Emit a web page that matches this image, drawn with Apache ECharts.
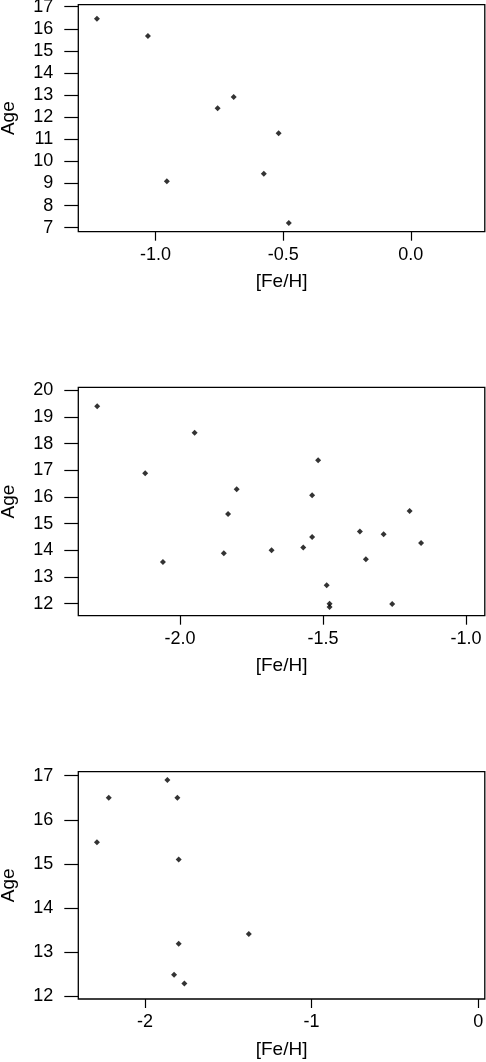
<!DOCTYPE html>
<html>
<head>
<meta charset="utf-8">
<script src="https://cdn.jsdelivr.net/npm/echarts@6/dist/echarts.min.js"></script>
<style>
html,body{margin:0;padding:0;background:#fff;}
#c{width:486px;height:1062px;}
</style>
</head>
<body>
<div id="c"></div>
<script>
// Panel 1
var fe1  = [-1.23, -1.03, -0.956, -0.757, -0.694, -0.518, -0.576, -0.478];
var age1 = [16.46, 15.67, 9.10, 12.40, 12.91, 11.27, 9.44, 7.21];
// Panel 2
var fe2  = [-2.29, -1.949, -2.122, -2.06, -1.802, -1.832, -1.847, -1.68, -1.517, -1.538, -1.538, -1.569, -1.487, -1.477, -1.477, -1.371, -1.35, -1.288, -1.197, -1.157, -1.258];
var age2 = [19.40, 18.41, 16.89, 13.56, 16.29, 15.36, 13.89, 14.00, 17.38, 16.06, 14.50, 14.11, 12.69, 12.00, 11.88, 14.71, 13.67, 14.60, 15.47, 14.27, 11.99];
// Panel 3
var fe3  = [-1.866, -2.218, -1.806, -2.289, -1.798, -1.377, -1.798, -1.826, -1.764];
var age3 = [16.90, 16.50, 16.50, 15.49, 15.10, 13.41, 13.19, 12.49, 12.29];

// Tick values
var xTicks1 = [-1.0, -0.5, 0.0];
var yTicks1 = [7, 8, 9, 10, 11, 12, 13, 14, 15, 16, 17];
var xTicks2 = [-2.0, -1.5, -1.0];
var yTicks2 = [12, 13, 14, 15, 16, 17, 18, 19, 20];
var xTicks3 = [-2, -1, 0];
var yTicks3 = [12, 13, 14, 15, 16, 17];

var xName = '[Fe/H]';
var yName = 'Age';

var FONT = '"Liberation Sans", Arial, Helvetica, sans-serif';
var FS = 18;
var FS_NAME = 19;

function pairs(xs, ys){ return xs.map(function(x,i){ return [x, ys[i]]; }); }

function grid(top, height){
  return {left: 78.3, width: 406.5, top: top, height: height, show: true,
          borderColor: '#000', borderWidth: 1.3, backgroundColor: 'transparent',
          containLabel: false, outerBoundsMode: 'none'};
}
function xAxis(i, min, max, ticks, dec){
  return {type: 'value', gridIndex: i, min: min, max: max,
    name: xName, nameLocation: 'middle', nameGap: 41,
    nameTextStyle: {color: '#000', fontSize: FS_NAME, fontFamily: FONT},
    axisLine: {show: false, onZero: false}, splitLine: {show: false},
    axisTick: {show: true, inside: false, length: 9, customValues: ticks, lineStyle: {color: '#000', width: 1.2}},
    axisLabel: {show: true, margin: 14, customValues: ticks, color: '#000', fontSize: FS, fontFamily: FONT,
      formatter: function(v){ return Number(v).toFixed(dec); }}
  };
}
function yAxis(i, min, max, ticks){
  return {type: 'value', gridIndex: i, min: min, max: max,
    name: yName, nameLocation: 'middle', nameGap: 60, nameRotate: 90,
    nameTextStyle: {color: '#000', fontSize: FS_NAME, fontFamily: FONT},
    axisLine: {show: false, onZero: false}, splitLine: {show: false},
    axisTick: {show: true, inside: false, length: 14, customValues: ticks, lineStyle: {color: '#000', width: 1.2}},
    axisLabel: {show: true, margin: 25, customValues: ticks, color: '#000', fontSize: FS, fontFamily: FONT,
      formatter: function(v){ return String(Math.round(v)); }}
  };
}
function series(i, xs, ys){
  return {type: 'scatter', xAxisIndex: i, yAxisIndex: i, data: pairs(xs, ys),
    symbol: 'diamond', symbolSize: 6, itemStyle: {color: '#000'}, silent: true};
}

var chart = echarts.init(document.getElementById('c'), null, {renderer: 'canvas'});
chart.setOption({
  animation: false,
  backgroundColor: '#fff',
  grid: [grid(4.7, 227), grid(387.3, 228.4), grid(771.7, 227.3)],
  xAxis: [
    xAxis(0, -1.303, 0.29, xTicks1, 1),
    xAxis(1, -2.356, -0.934, xTicks2, 1),
    xAxis(2, -2.401, 0.04, xTicks3, 0)
  ],
  yAxis: [
    yAxis(0, 6.82, 17.09, yTicks1),
    yAxis(1, 11.55, 20.11, yTicks2),
    yAxis(2, 11.94, 17.09, yTicks3)
  ],
  series: [series(0, fe1, age1), series(1, fe2, age2), series(2, fe3, age3)]
});
</script>
</body>
</html>
